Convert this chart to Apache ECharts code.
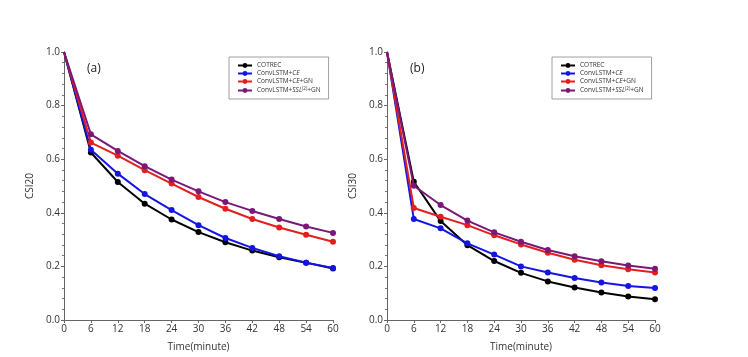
<!DOCTYPE html>
<html><head><meta charset="utf-8">
<script src="https://cdn.jsdelivr.net/npm/echarts@6/dist/echarts.min.js"></script>
<style>html,body{margin:0;padding:0;background:#fff}#c{width:748px;height:357px}</style>
</head><body><div id="c"></div>
<script>
var times = [0, 6, 12, 18, 24, 30, 36, 42, 48, 54, 60];
var seriesNames = ['COTREC', 'ConvLSTM+CE', 'ConvLSTM+CE+GN', 'ConvLSTM+SSL(2)+GN'];
var yTicks = [0.0, 0.2, 0.4, 0.6, 0.8, 1.0];
// Panel (a) CSI20
var csi20_cotrec = [1.0, 0.625, 0.515, 0.434, 0.375, 0.328, 0.290, 0.259, 0.234, 0.214, 0.192];
var csi20_ce     = [1.0, 0.635, 0.546, 0.470, 0.410, 0.354, 0.306, 0.269, 0.238, 0.214, 0.194];
var csi20_cegn   = [1.0, 0.662, 0.613, 0.559, 0.509, 0.459, 0.415, 0.377, 0.345, 0.318, 0.292];
var csi20_ssl    = [1.0, 0.693, 0.631, 0.574, 0.524, 0.480, 0.440, 0.407, 0.377, 0.349, 0.325];
// Panel (b) CSI30
var csi30_cotrec = [1.0, 0.516, 0.369, 0.279, 0.220, 0.176, 0.144, 0.121, 0.103, 0.088, 0.077];
var csi30_ce     = [1.0, 0.377, 0.342, 0.286, 0.244, 0.200, 0.177, 0.157, 0.140, 0.127, 0.119];
var csi30_cegn   = [1.0, 0.418, 0.385, 0.354, 0.316, 0.282, 0.251, 0.225, 0.204, 0.189, 0.177];
var csi30_ssl    = [1.0, 0.501, 0.429, 0.371, 0.327, 0.292, 0.261, 0.238, 0.219, 0.203, 0.191];

var colors = ['#000000', '#1414e6', '#e41e1e', '#7a1878'];
var FONT = 'Open Sans';

function pairs(ys) {
  return times.map(function (t, i) {
    return i === 0 ? { value: [t, ys[i]], symbol: 'none' } : [t, ys[i]];
  });
}

function legendFmt(name) {
  if (name === 'ConvLSTM+CE') return '{a|ConvLSTM+}{i|CE}';
  if (name === 'ConvLSTM+CE+GN') return '{a|ConvLSTM+}{i|CE}{a|+GN}';
  if (name === 'ConvLSTM+SSL(2)+GN') return '{a|ConvLSTM+}{i|SSL}{s|(2)}{a|+GN}';
  return '{a|' + name + '}';
}
var legendRich = {
  a: { fontSize: 6.5, fontFamily: FONT, color: '#333' },
  i: { fontSize: 6.5, fontFamily: FONT, color: '#333', fontStyle: 'italic' },
  s: { fontSize: 4.5, fontFamily: FONT, color: '#333', verticalAlign: 'top', padding: [0, 0, 4, 0] }
};

var grids = [
  { left: 64, top: 52, width: 269, height: 269 },
  { left: 387, top: 52, width: 268, height: 269 }
];

function xAxis(gi) {
  return {
    gridIndex: gi, type: 'value', min: 0, max: 60, interval: 6,
    name: 'Time(minute)', nameLocation: 'middle', nameGap: 22,
    nameTextStyle: { fontFamily: FONT, fontSize: 10, color: '#333' },
    axisLine: { lineStyle: { color: '#666', width: 1 } },
    axisTick: { show: true, inside: false, length: 3, lineStyle: { color: '#666' } },
    axisLabel: { fontFamily: FONT, fontSize: 10, color: '#333', margin: 4 },
    splitLine: { show: false }
  };
}
function yAxis(gi, name) {
  return {
    gridIndex: gi, type: 'value', min: 0, max: 1, interval: 0.2,
    name: name, nameLocation: 'middle', nameGap: 29,
    nameTextStyle: { fontFamily: FONT, fontSize: 10, color: '#333' },
    axisLine: { show: true, lineStyle: { color: '#666', width: 1 } },
    axisTick: { show: true, inside: false, length: 3, lineStyle: { color: '#666' } },
    minorTick: { show: true, splitNumber: 5, length: 2, lineStyle: { color: '#777' } },
    axisLabel: { fontFamily: FONT, fontSize: 10, color: '#333', margin: 4,
      formatter: function (v) { return v.toFixed(1); } },
    splitLine: { show: false }
  };
}

var panelData = [
  [csi20_cotrec, csi20_ce, csi20_cegn, csi20_ssl],
  [csi30_cotrec, csi30_ce, csi30_cegn, csi30_ssl]
];
var series = [];
panelData.forEach(function (set, gi) {
  set.forEach(function (ys, si) {
    series.push({
      name: seriesNames[si], type: 'line', xAxisIndex: gi, yAxisIndex: gi,
      data: pairs(ys),
      symbol: 'circle',
      symbolSize: 6,
      lineStyle: { width: 2, color: colors[si] },
      itemStyle: { color: colors[si] },
      animation: false, z: 2 + si
    });
  });
});

function legend(left) {
  return {
    left: left, top: 57, orient: 'vertical',
    data: seriesNames, itemWidth: 14, itemHeight: 6, itemGap: 1,
    padding: [5, 8, 5, 8],
    borderColor: '#888', borderWidth: 0.8,
    backgroundColor: '#fff',
    formatter: legendFmt,
    textStyle: { rich: legendRich, fontSize: 6.5 },
    itemStyle: { borderWidth: 0 }
  };
}

var chart = echarts.init(document.getElementById('c'));
chart.setOption({
  backgroundColor: '#fff',
  animation: false,
  grid: grids,
  xAxis: [xAxis(0), xAxis(1)],
  yAxis: [yAxis(0, 'CSI20'), yAxis(1, 'CSI30')],
  legend: [legend(229), legend(552)],
  title: [
    { text: '(a)', left: 82, top: 58, textStyle: { fontFamily: FONT, fontSize: 12, fontWeight: 'normal', color: '#222' } },
    { text: '(b)', left: 405, top: 58, textStyle: { fontFamily: FONT, fontSize: 12, fontWeight: 'normal', color: '#222' } }
  ],
  series: series
});
</script></body></html>
